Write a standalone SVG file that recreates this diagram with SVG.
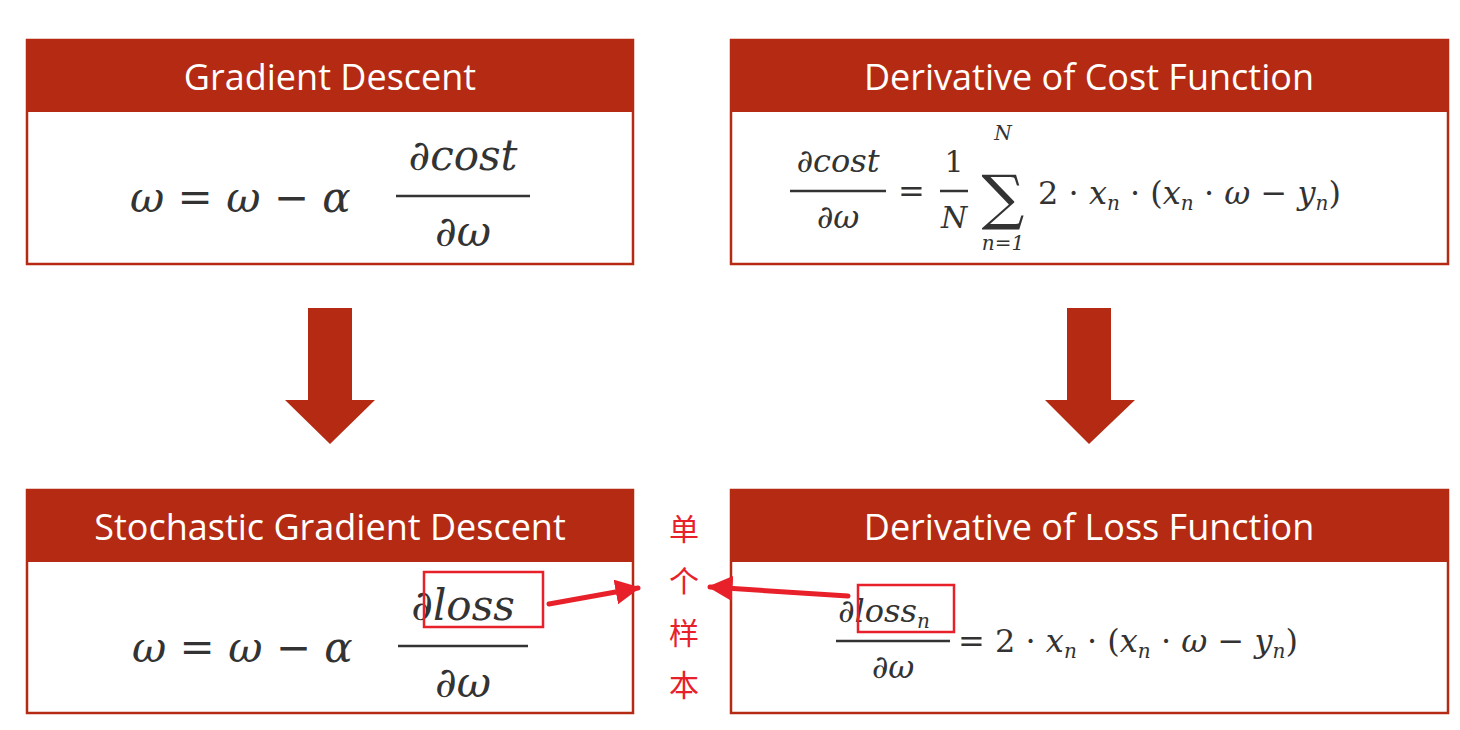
<svg xmlns="http://www.w3.org/2000/svg" width="1460" height="730" viewBox="0 0 1460 730">
<style>
.box{fill:#fff;stroke:#b52a12;stroke-width:2.5}
.hd{fill:#b52a12}
.ht{fill:#fff;font-family:"Open Sans","Liberation Sans",sans-serif;font-size:36px;text-anchor:middle}
.m{fill:#333;font-family:"DejaVu Serif","Liberation Serif",serif;font-style:italic}
.n{fill:#333;font-family:"DejaVu Serif","Liberation Serif",serif}
.bar{stroke:#333;stroke-width:2.5}
.dn{fill:#b52a12}
.rb{fill:none;stroke:#e8202a;stroke-width:2.5}
.cn{fill:#e8202a;font-family:"Noto Sans CJK SC",sans-serif;font-size:30px;text-anchor:middle}
</style>
<defs><marker id="ah" viewBox="0 0 10 10" refX="9" refY="5" markerWidth="5" markerHeight="5" orient="auto"><path d="M0,0L10,5L0,10z" fill="#e8202a"/></marker></defs>
<g id="gd">
<rect class="box" x="27" y="40" width="606" height="224"/><rect class="hd" x="27" y="40" width="606" height="72"/>
<text class="ht" x="330" y="90">Gradient Descent</text>
<text class="m" font-size="42" x="130" y="212">ω <tspan class="n">=</tspan> ω <tspan class="n">−</tspan> α</text>
<line class="bar" x1="396" y1="196" x2="530" y2="196"/>
<text class="m" font-size="42" x="463" y="170" text-anchor="middle">∂cost</text>
<text class="m" font-size="42" x="463" y="246" text-anchor="middle">∂ω</text>
</g>
<g id="dc">
<rect class="box" x="731" y="40" width="717" height="224"/><rect class="hd" x="731" y="40" width="717" height="72"/>
<text class="ht" x="1089" y="90">Derivative of Cost Function</text>
<text class="m" font-size="32" x="838" y="172" text-anchor="middle">∂cost</text>
<line class="bar" x1="790" y1="191" x2="886" y2="191"/>
<text class="m" font-size="32" x="838" y="228" text-anchor="middle">∂ω</text>
<text class="n" font-size="32" x="898" y="202">=</text>
<text class="n" font-size="30" x="954" y="172" text-anchor="middle">1</text>
<line class="bar" x1="940" y1="191" x2="968" y2="191"/>
<text class="m" font-size="30" x="954" y="228" text-anchor="middle">N</text>
<text class="n" font-size="60" x="1003" y="218" text-anchor="middle">∑</text>
<text class="m" font-size="20" x="1003" y="140" text-anchor="middle">N</text>
<text class="m" font-size="20" x="1003" y="250" text-anchor="middle">n<tspan class="n">=1</tspan></text>
<text class="n" font-size="32" x="1038" y="204">2 · <tspan class="m">x</tspan><tspan class="m" font-size="20" dy="6">n</tspan><tspan dy="-6"> · (</tspan><tspan class="m">x</tspan><tspan class="m" font-size="20" dy="6">n</tspan><tspan dy="-6"> · </tspan><tspan class="m">ω</tspan> − <tspan class="m">y</tspan><tspan class="m" font-size="20" dy="6">n</tspan><tspan dy="-6">)</tspan></text>
</g>
<g id="sgd">
<rect class="box" x="27" y="490" width="606" height="223"/><rect class="hd" x="27" y="490" width="606" height="72"/>
<text class="ht" x="330" y="540">Stochastic Gradient Descent</text>
<text class="m" font-size="42" x="132" y="662">ω <tspan class="n">=</tspan> ω <tspan class="n">−</tspan> α</text>
<line class="bar" x1="398" y1="646" x2="528" y2="646"/>
<text class="m" font-size="42" x="463" y="620" text-anchor="middle">∂loss</text>
<text class="m" font-size="42" x="463" y="697" text-anchor="middle">∂ω</text>
</g>
<g id="dl">
<rect class="box" x="731" y="490" width="717" height="223"/><rect class="hd" x="731" y="490" width="717" height="72"/>
<text class="ht" x="1089" y="540">Derivative of Loss Function</text>
<text class="m" font-size="32" x="838" y="622">∂loss<tspan font-size="20" dy="6">n</tspan></text>
<line class="bar" x1="836" y1="641" x2="950" y2="641"/>
<text class="m" font-size="32" x="893" y="678" text-anchor="middle">∂ω</text>
<text class="n" font-size="32" x="958" y="652">= 2 · <tspan class="m">x</tspan><tspan class="m" font-size="20" dy="6">n</tspan><tspan dy="-6"> · (</tspan><tspan class="m">x</tspan><tspan class="m" font-size="20" dy="6">n</tspan><tspan dy="-6"> · </tspan><tspan class="m">ω</tspan> − <tspan class="m">y</tspan><tspan class="m" font-size="20" dy="6">n</tspan><tspan dy="-6">)</tspan></text>
</g>
<g id="note">
<rect class="rb" x="424" y="572" width="119" height="55"/>
<rect class="rb" x="858" y="585" width="96" height="47"/>
<text class="cn" x="684" y="540">单</text>
<text class="cn" x="684" y="592">个</text>
<text class="cn" x="684" y="644">样</text>
<text class="cn" x="684" y="696">本</text>
</g>
<g id="connectors">
<path class="dn" d="M308,308H352V400H375L330,444L285,400H308z"/>
<path class="dn" d="M1067,308H1111V400H1135L1089,444L1045,400H1067z"/>
<line x1="549" y1="604" x2="638" y2="588" stroke="#e8202a" stroke-width="5" stroke-linecap="round" marker-end="url(#ah)"/>
<line x1="848" y1="596" x2="710" y2="587" stroke="#e8202a" stroke-width="5" stroke-linecap="round" marker-end="url(#ah)"/>
</g>
</svg>
